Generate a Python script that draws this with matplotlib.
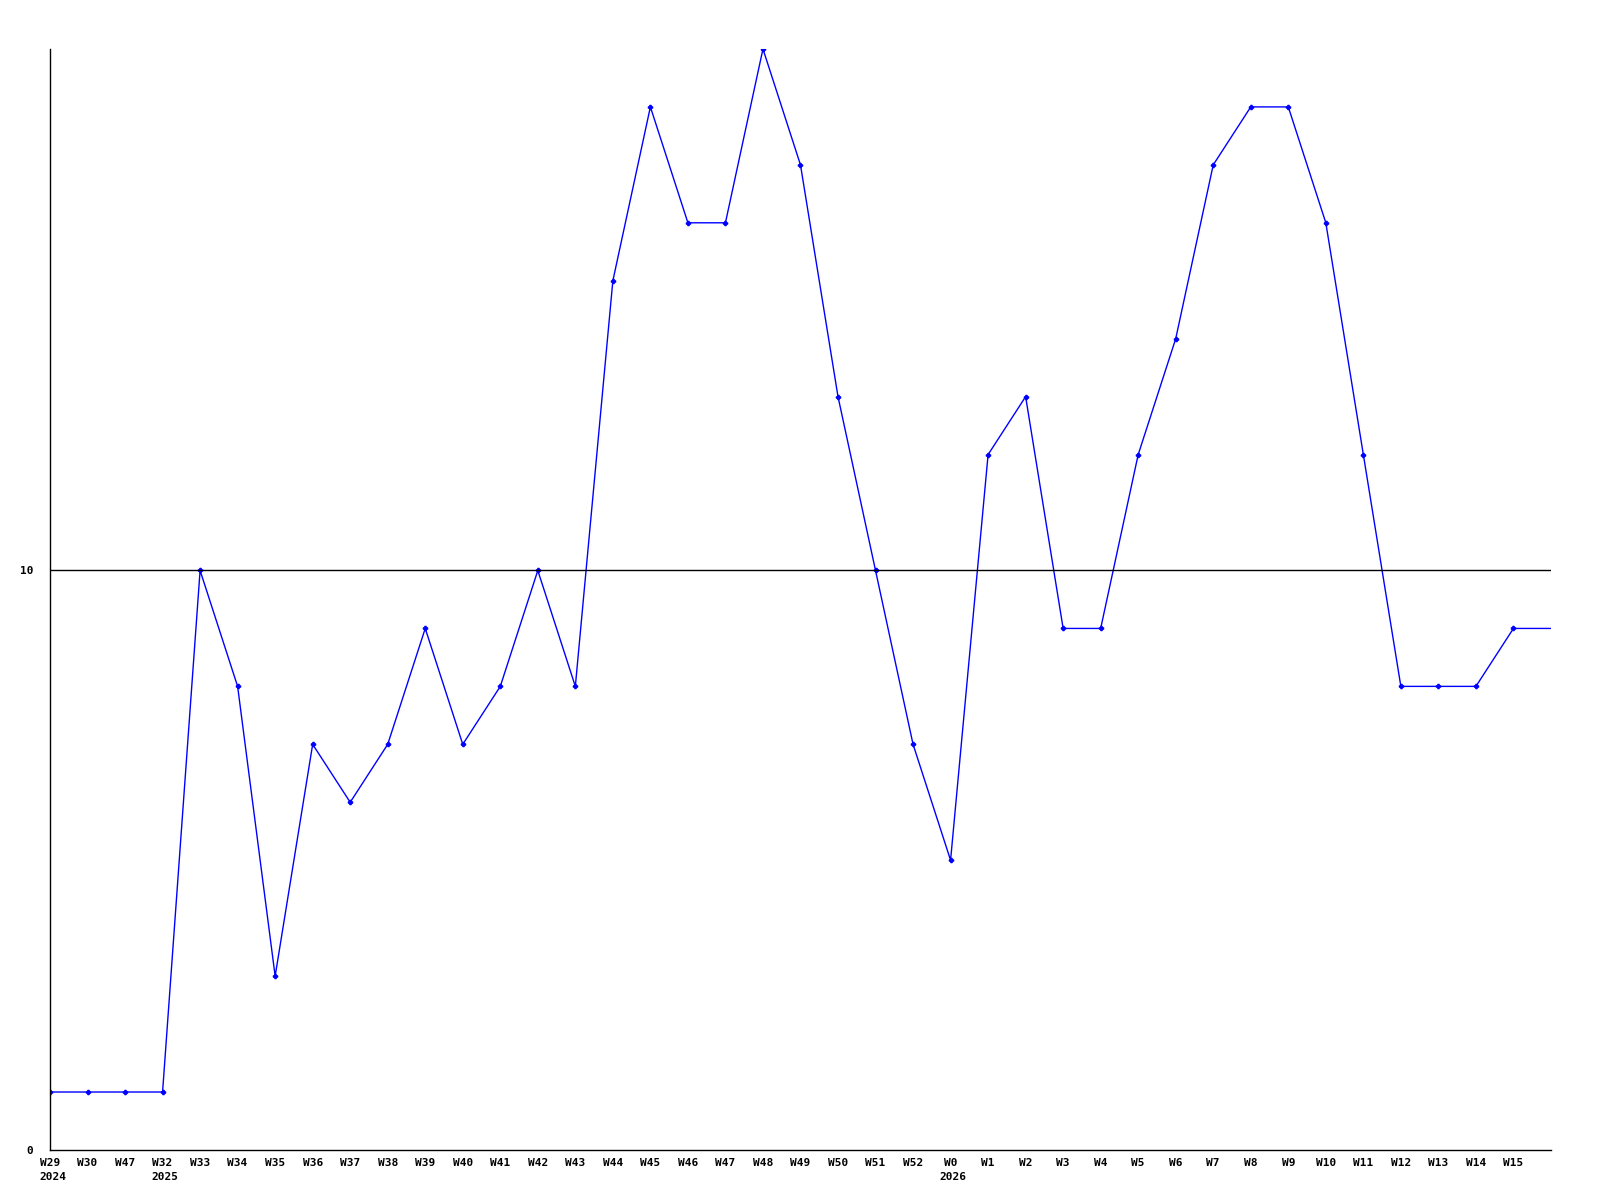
import numpy as np
import matplotlib
matplotlib.use('Agg')
import matplotlib.pyplot as plt

# weekly values
weeks = ['W29', 'W30', 'W47', 'W32', 'W33', 'W34', 'W35', 'W36', 'W37', 'W38',
         'W39', 'W40', 'W41', 'W42', 'W43', 'W44', 'W45', 'W46', 'W47', 'W48',
         'W49', 'W50', 'W51', 'W52', 'W0', 'W1', 'W2', 'W3', 'W4', 'W5',
         'W6', 'W7', 'W8', 'W9', 'W10', 'W11', 'W12', 'W13', 'W14', 'W15']
values = [1, 1, 1, 1, 10, 8, 3, 7, 6, 7,
          9, 7, 8, 10, 8, 15, 18, 16, 16, 19,
          17, 13, 10, 7, 5, 12, 13, 9, 9, 12,
          14, 17, 18, 18, 16, 12, 8, 8, 8, 9]
last_value = 9   # line runs on to the right edge, no marker
years = {0: '2024', 3: '2025', 24: '2026'}

font = dict(family='DejaVu Sans Mono', weight='bold', size=8)

fig = plt.figure(figsize=(16, 12), dpi=100)
ax = fig.add_axes([0.03125, 0.0417, 0.9381, 0.9175])

x = np.arange(len(values) + 1)
y = values + [last_value]
ax.plot(x, y, color='#0000ff', lw=1.0, marker='P', ms=3,
        markevery=list(range(len(values))))

ax.axhline(10, color='black', lw=1.0)

ax.set_xlim(0, len(values))
ax.set_ylim(0, 19)
ax.set_xticks(range(len(weeks)))
ax.set_xticklabels(weeks, **font)
ax.set_yticks([0, 10])
ax.set_yticklabels(['0', '10'], **font)
ax.tick_params(length=0, pad=6)
ax.tick_params(axis='y', pad=12)

for i, yr in years.items():
    ax.annotate(yr, xy=(i, 0), xycoords=('data', 'axes fraction'),
                xytext=(-8, -16), textcoords='offset points',
                ha='left', va='top', **font)

for s in ['top', 'right']:
    ax.spines[s].set_visible(False)
for s in ['left', 'bottom']:
    ax.spines[s].set_color('black')
    ax.spines[s].set_linewidth(1.0)

fig.savefig('out.png', dpi=100)
